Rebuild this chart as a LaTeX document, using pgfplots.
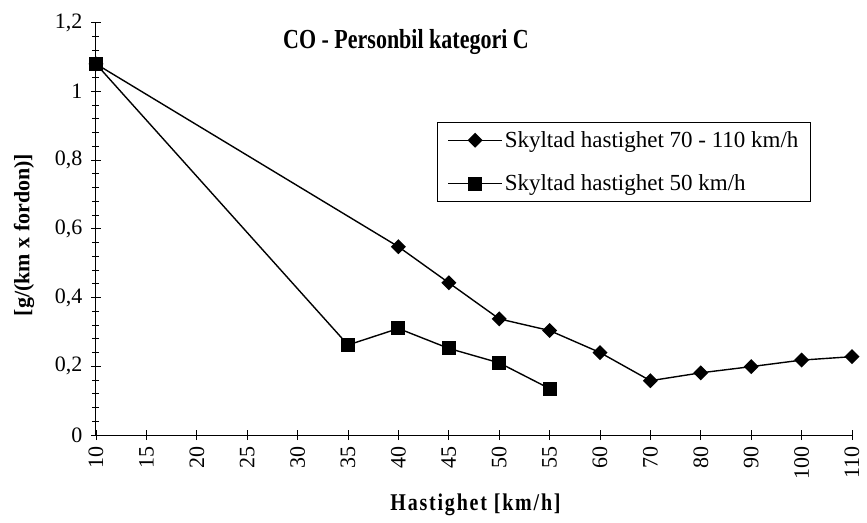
\documentclass[border=0pt]{standalone}
\usepackage{pgfplots}
\pgfplotsset{compat=1.18}
\usepackage{fontspec}
\setmainfont{Liberation Serif}

% CO emissions per vehicle-km against speed
\pgfplotstableread{
x y
0  1.08
6  0.548
7  0.443
8  0.338
9  0.304
10 0.240
11 0.158
12 0.181
13 0.199
14 0.218
15 0.228
}\speedhigh

\pgfplotstableread{
x y
0 1.08
5 0.262
6 0.310
7 0.252
8 0.210
9 0.135
}\speedfifty

\begin{document}
\begin{tikzpicture}
\useasboundingbox (-96bp,-88bp) rectangle (771bp,435bp);
\begin{axis}[
  scale only axis,
  width=756bp, height=412.3bp,
  xmin=0, xmax=15, ymin=0, ymax=1.2,
  axis lines=left,
  axis line style={-, line width=1bp, black},
  xtick={0,...,15},
  xticklabels={10,15,20,25,30,35,40,45,50,55,60,70,80,90,100,110},
  xticklabel style={rotate=90, anchor=east, font=\fontsize{22bp}{22bp}\selectfont, xshift=-3bp},
  ytick={0,0.2,0.4,0.6,0.8,1,1.2},
  yticklabels={0,{0,2},{0,4},{0,6},{0,8},1,{1,2}},
  yticklabel style={font=\fontsize{22bp}{22bp}\selectfont, xshift=-5bp},
  minor y tick num=4,
  tick align=center,
  major tick length=10bp,
  minor tick length=7bp,
  tick style={black, line width=0.9bp},
  clip=false,
  legend cell align=left,
  legend style={
    at={(axis description cs:0.451,0.759)}, anchor=north west,
    draw=black, line width=0.9bp,
    font=\fontsize{23bp}{23bp}\selectfont,
    inner xsep=10bp, inner ysep=7bp,
    row sep=22bp,
  },
  legend image code/.code={%
    \draw[mark repeat=2, mark phase=2]
      plot coordinates {(0bp,0bp) (27bp,0bp) (54bp,0bp)};
  },
]
\addplot[black, line width=1.4bp, mark=square*, mark size=4.6bp,
  mark options={rotate=45, solid, fill=black}] table {\speedhigh};
\addlegendentry{Skyltad hastighet 70 - 110 km/h}
\addplot[black, line width=1.4bp, mark=square*, mark size=6.3bp,
  mark options={solid, fill=black}] table {\speedfifty};
\addlegendentry{Skyltad hastighet 50 km/h}

\node at (axis description cs:0.41,0.953)
  {\scalebox{1}[1.25]{\bfseries\fontsize{22bp}{22bp}\selectfont CO - Personbil kategori C}};
\node at (axis description cs:0.502,-0.17)
  {\scalebox{1}[1.2]{\bfseries\fontsize{20bp}{20bp}\selectfont\addfontfeature{LetterSpace=9}Hastighet [km/h]}};
\node[rotate=90] at (axis description cs:-0.095,0.485)
  {\bfseries\fontsize{22bp}{22bp}\selectfont [g/(km x fordon)]};
\end{axis}
\end{tikzpicture}
\end{document}
